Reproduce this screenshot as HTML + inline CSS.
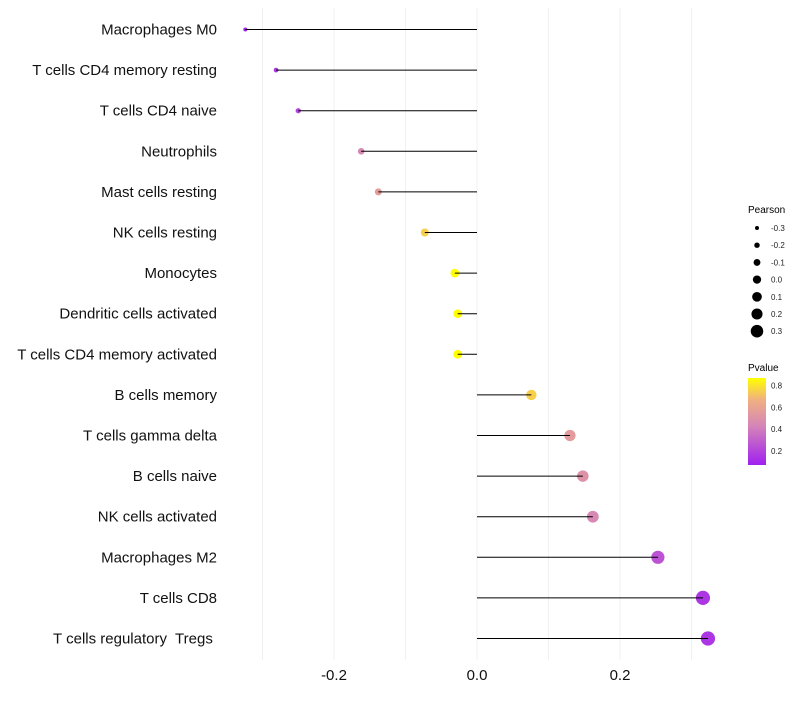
<!DOCTYPE html>
<html><head><meta charset="utf-8"><style>
body{margin:0;background:#fff;font-family:"Liberation Sans",sans-serif}
text{white-space:pre}
</style></head><body>
<svg id="c" width="800" height="700" xmlns="http://www.w3.org/2000/svg" font-family="Liberation Sans, sans-serif">
<defs><linearGradient id="pg" x1="0" y1="1" x2="0" y2="0">
<stop offset="0" stop-color="#a020f0"/><stop offset="0.45" stop-color="#d585b8"/><stop offset="0.75" stop-color="#f0b080"/><stop offset="1" stop-color="#ffff00"/></linearGradient></defs>
<g id="grid"></g><g id="dots"></g><g id="marks"></g><g id="labels"></g><g id="xaxis"></g>
<g id="legend">
<text x="748" y="213" font-size="10">Pearson</text>
<text x="748" y="371" font-size="10">Pvalue</text>
<rect x="748" y="378" width="18" height="87" fill="url(#pg)"/>
</g>
</svg>
<script>
const categories=["Macrophages M0","T cells CD4 memory resting","T cells CD4 naive","Neutrophils","Mast cells resting","NK cells resting","Monocytes","Dendritic cells activated","T cells CD4 memory activated","B cells memory","T cells gamma delta","B cells naive","NK cells activated","Macrophages M2","T cells CD8","T cells regulatory  Tregs "];
const pearson=[-0.324,-0.281,-0.250,-0.162,-0.138,-0.073,-0.031,-0.027,-0.027,0.076,0.130,0.148,0.162,0.253,0.316,0.323];
const pvalues=[0.1,0.15,0.2,0.45,0.55,0.75,0.9,0.9,0.9,0.75,0.55,0.5,0.45,0.25,0.15,0.15];
const xTicks=[-0.2,0,0.2];
const xTickLabels=["-0.2","0.0","0.2"];
const gridVals=[-0.3,-0.2,-0.1,0,0.1,0.2,0.3];
const sizeLegend=[-0.3,-0.2,-0.1,0.0,0.1,0.2,0.3];
const colorLegend=[0.2,0.4,0.6,0.8];
const NS="http://www.w3.org/2000/svg";
const X=v=>477+v*715;
const Y=i=>29.5+i*40.6;
const R=v=>2+(v+0.33)/0.66*5.2;
const CY=p=>465-(p-0.07)/0.8*87;
function col(p){const t=Math.max(0,Math.min(1,(p-0.07)/0.8));
const st=[[0,[160,32,240]],[0.45,[213,133,184]],[0.75,[240,176,128]],[1,[255,255,0]]];
for(let k=1;k<st.length;k++){if(t<=st[k][0]){const a=st[k-1],b=st[k],f=(t-a[0])/(b[0]-a[0]);return 'rgb('+a[1].map((c,j)=>Math.round(c+(b[1][j]-c)*f)).join(',')+')';}}return 'rgb(255,255,0)';}
function mk(tag,at,par){const e=document.createElementNS(NS,tag);for(const k in at)e.setAttribute(k,at[k]);document.getElementById(par).appendChild(e);return e;}
gridVals.forEach(g=>{const e=mk('line',{x1:X(g),x2:X(g),y1:8,y2:660,stroke:'#f0f0f0','stroke-width':1},'grid');

});
categories.forEach((c,i)=>{
const d=mk('circle',{cx:X(pearson[i]),cy:Y(i),r:R(pearson[i]),fill:col(pvalues[i])},'dots');


const l=mk('line',{x1:X(0),x2:X(pearson[i]),y1:Y(i),y2:Y(i),stroke:'#000','stroke-width':1},'marks');


const t=mk('text',{x:217,y:Y(i)+5,'text-anchor':'end','font-size':15,fill:'#111'},'labels');t.textContent=c;

});
xTicks.forEach((v,i)=>{const t=mk('text',{x:X(v),y:680,'text-anchor':'middle','font-size':15,fill:'#111'},'xaxis');t.textContent=xTickLabels[i];

});
sizeLegend.forEach((v,i)=>{const y=228+i*17.2;
const d=mk('circle',{cx:757,cy:y,r:R(v)*0.9,fill:'#000'},'legend');


const t=mk('text',{x:771,y:y+3,'font-size':8,fill:'#222'},'legend');t.textContent=v.toFixed(1);

});
colorLegend.forEach(v=>{const y=CY(v);
const t=mk('text',{x:771,y:y+3,'font-size':8,fill:'#222'},'legend');t.textContent=v.toFixed(1);

});
</script>
</body></html>
